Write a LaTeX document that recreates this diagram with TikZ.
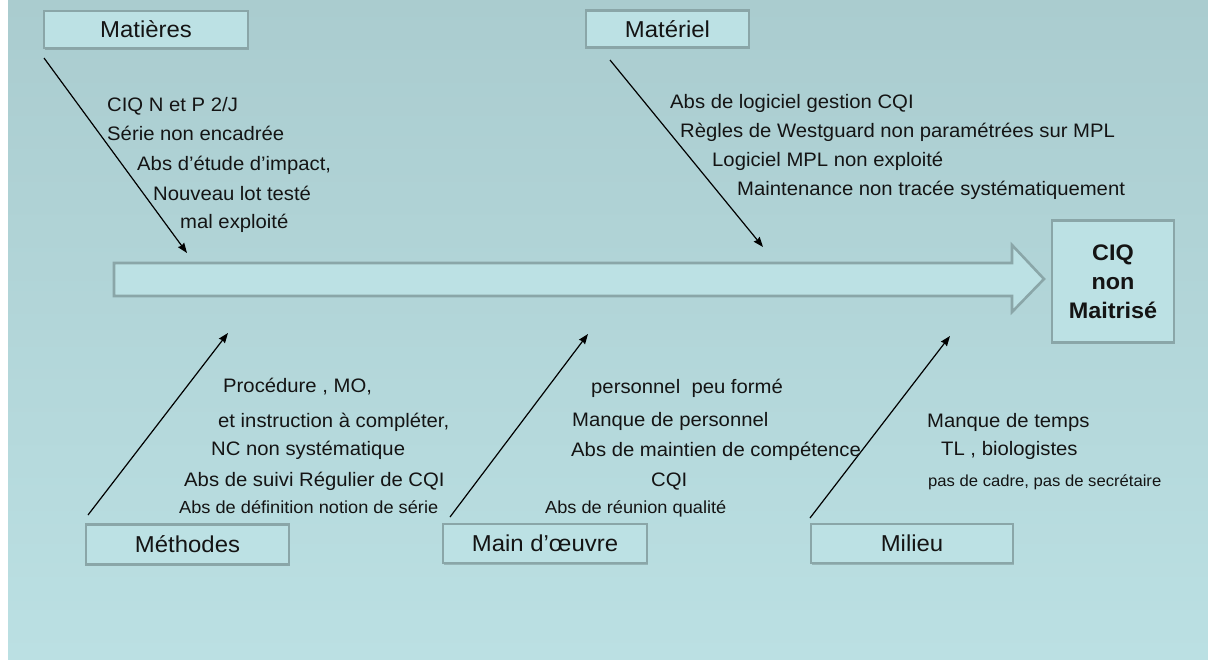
\documentclass[tikz,border=0pt]{standalone}
\usepackage{fontspec}
\setmainfont{Liberation Sans}[FakeStretch=1.04]
\usetikzlibrary{arrows.meta,shadows}
\definecolor{bgtop}{RGB}{170,204,207}
\definecolor{bgbot}{RGB}{187,224,227}
\definecolor{boxfill}{RGB}{188,225,228}
\definecolor{boxline}{RGB}{138,166,168}
\definecolor{txt}{RGB}{20,20,20}
\tikzset{
  catbox/.style={draw=boxline, line width=2.6pt, fill=boxfill, inner sep=0pt, text=txt,
    font=\fontsize{23}{27}\selectfont,
    drop shadow={shadow xshift=1.2pt, shadow yshift=-1.8pt, fill=black, opacity=0.18}},
  cause/.style={anchor=base west, inner sep=0pt, text=txt, font=\fontsize{19.5}{23}\selectfont},
  smallcause/.style={anchor=base west, inner sep=0pt, text=txt, font=\fontsize{17.5}{21}\selectfont},
  tinycause/.style={anchor=base west, inner sep=0pt, text=txt, font=\fontsize{16}{19}\selectfont},
  bone/.style={line width=1.2pt, -{Stealth[length=10pt,width=7.5pt,inset=1pt]}},
}
\begin{document}
\begin{tikzpicture}[x=1pt,y=-1pt]
\useasboundingbox (0,0) rectangle (1208,659);
\fill[white] (0,0) rectangle (8,659);
\shade[top color=bgtop, bottom color=bgbot] (8,0) rectangle (1208,659);
% spine arrow
\draw[boxline, line width=2.6pt, fill=boxfill, line join=miter]
  (114,263) -- (1012,263) -- (1012,245) -- (1044,279) -- (1012,312) -- (1012,296) -- (114,296) -- cycle;
% category boxes
\node[catbox, minimum width=204pt, minimum height=37pt] (mat) at (146,29.5) {Matières};
\node[catbox, minimum width=163pt, minimum height=37pt] (mtl) at (667.5,29) {Matériel};
\node[catbox, minimum width=203pt, minimum height=40pt] (meth) at (187.5,544.5) {Méthodes};
\node[catbox, minimum width=204pt, minimum height=39pt] (mo) at (545,543.5) {Main d’œuvre};
\node[catbox, minimum width=202pt, minimum height=39pt] (mil) at (912,543.5) {Milieu};
\node[catbox, minimum width=122pt, minimum height=122pt, align=center,
  font=\bfseries\fontsize{22.5}{29}\selectfont] (ciq) at (1113,281.5) {CIQ\\non\\Maitrisé};
% bone coordinates
\coordinate (matS) at (44,58);   \coordinate (matE) at (187,253);
\coordinate (mtlS) at (610,60);  \coordinate (mtlE) at (763,247);
\coordinate (methS) at (88,515); \coordinate (methE) at (228,333);
\coordinate (moS) at (450,517);  \coordinate (moE) at (588,334);
\coordinate (milS) at (810,518); \coordinate (milE) at (950,336);
\draw[bone] (matS) -- (matE);
\draw[bone] (mtlS) -- (mtlE);
\draw[bone] (methS) -- (methE);
\draw[bone] (moS) -- (moE);
\draw[bone] (milS) -- (milE);
% Matières causes
\node[cause] (m1) at (107,111) {CIQ N et P 2/J};
\node[cause] (m2) at (107,140) {Série non encadrée};
\node[cause] (m3) at (137,170) {Abs d'étude d’impact,};
\node[cause] (m4) at (153,200) {Nouveau lot testé};
\node[cause] (m5) at (180,228) {mal exploité};
% Matériel causes
\node[cause] (t1) at (670,108) {Abs de logiciel gestion CQI};
\node[cause] (t2) at (680,137) {Règles de Westguard non paramétrées sur MPL};
\node[cause] (t3) at (712,166) {Logiciel MPL non exploité};
\node[cause] (t4) at (737,195) {Maintenance non tracée systématiquement};
% Méthodes causes
\node[cause] (e1) at (223,392) {Procédure , MO,};
\node[cause] (e2) at (218,427) {et instruction à compléter,};
\node[cause] (e3) at (211,455) {NC non systématique};
\node[cause] (e4) at (184,486) {Abs de suivi Régulier de CQI};
\node[smallcause] (e5) at (179,513) {Abs de définition notion de série};
% Main d'oeuvre causes
\node[cause] (o1) at (591,393) {personnel\ \ peu formé};
\node[cause] (o2) at (572,426) {Manque de personnel};
\node[cause] (o3) at (571,456) {Abs de maintien de compétence};
\node[cause] (o4) at (651,486) {CQI};
\node[smallcause] (o5) at (545,513) {Abs de réunion qualité};
% Milieu causes
\node[cause] (l1) at (927,427) {Manque de temps};
\node[cause] (l2) at (941,455) {TL , biologistes};
\node[tinycause] (l3) at (928,486) {pas de cadre, pas de secrétaire};
\end{tikzpicture}
\end{document}
